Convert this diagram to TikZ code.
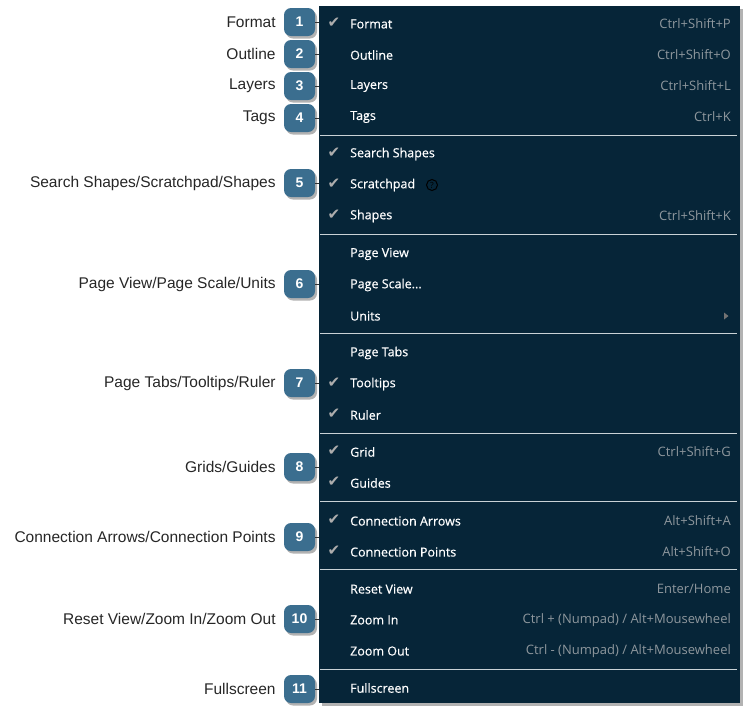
\documentclass[tikz,border=0pt]{standalone}
\usepackage{fontspec}
\setmainfont{Liberation Sans}
\newfontfamily\menufont{Open Sans}
\newfontfamily\menuboldfont[FakeBold=0.5]{Open Sans}
\newfontfamily\symfont{DejaVu Sans}
\usetikzlibrary{positioning,calc}
\definecolor{menubg}{HTML}{062538}
\definecolor{badgeblue}{HTML}{3B6E8F}
\definecolor{sepgray}{HTML}{C9D2D6}
\definecolor{keygray}{HTML}{8E979D}

\begin{document}
\begin{tikzpicture}[
    x=1pt, y=-1pt,
    badge/.style={fill=badgeblue, rounded corners=7pt, minimum width=31pt, minimum height=28pt,
      inner sep=0pt, text=white, font=\bfseries\fontsize{14}{14}\selectfont},
    badgeshadow/.style={fill=black!30, rounded corners=7pt, minimum width=31pt, minimum height=28pt},
    callout/.style={anchor=east, inner sep=0pt, font=\fontsize{15.5}{16}\selectfont, text=black!85},
    item/.style={anchor=west, inner sep=0pt, text=white, font=\menuboldfont\fontsize{12.5}{13}\selectfont},
    keys/.style={anchor=east, inner sep=0pt, text=keygray, font=\menufont\fontsize{13}{13}\selectfont},
    tick/.style={inner sep=0pt, text=black!32, font=\symfont\fontsize{15}{15}\selectfont},
    sep/.style={draw=sepgray, line width=1pt},
    leader/.style={draw=black!80, line width=0.6pt}
  ]
    \useasboundingbox (0,0) rectangle (751,716);
    % menu panel
    \fill[black!30] (322,9) rectangle (743,706);
    \node[fill=menubg, minimum width=421pt, minimum height=697pt, inner sep=0pt] (menu) at (529.5,354.5) {};

    % menu items
    \node[item] (format) at (350,24) {Format};
    \node[keys] at (731,24) {Ctrl+Shift+P};
    \node[item] (outline) at (350,55) {Outline};
    \node[keys] at (731,55) {Ctrl+Shift+O};
    \node[item] (layers) at (350,86) {Layers};
    \node[keys] at (731,86) {Ctrl+Shift+L};
    \node[item] (tags) at (350,117) {Tags};
    \node[keys] at (731,117) {Ctrl+K};
    \node[item] (search) at (350,154) {Search Shapes};
    \node[item] (scratch) at (350,185) {Scratchpad};
    \node[item] (shapes) at (350,216) {Shapes};
    \node[keys] at (731,216) {Ctrl+Shift+K};
    \node[item] (pageview) at (350,254) {Page View};
    \node[item] (pagescale) at (350,285) {Page Scale...};
    \node[item] (units) at (350,316) {Units};
    \node[item] (pagetabs) at (350,353) {Page Tabs};
    \node[item] (tooltips) at (350,384) {Tooltips};
    \node[item] (ruler) at (350,415) {Ruler};
    \node[item] (grid) at (350,452) {Grid};
    \node[keys] at (731,452) {Ctrl+Shift+G};
    \node[item] (guides) at (350,483) {Guides};
    \node[item] (connarrows) at (350,521) {Connection Arrows};
    \node[keys] at (731,521) {Alt+Shift+A};
    \node[item] (connpoints) at (350,552) {Connection Points};
    \node[keys] at (731,552) {Alt+Shift+O};
    \node[item] (resetview) at (350,589) {Reset View};
    \node[keys] at (731,589) {Enter/Home};
    \node[item] (zoomin) at (350,620) {Zoom In};
    \node[keys] at (731,620) {Ctrl + (Numpad) / Alt+Mousewheel};
    \node[item] (zoomout) at (350,651) {Zoom Out};
    \node[keys] at (731,651) {Ctrl - (Numpad) / Alt+Mousewheel};
    \node[item] (fullscreen) at (350,688) {Fullscreen};

    % check marks
    \foreach \y in {24,154,185,216,384,415,452,483,521,552}
      \node[tick] at (334,\y-1) {✔};

    % help icon and submenu arrow
    \draw[black, line width=1pt] (432,185) circle (5.5pt);
    \node[inner sep=0pt, text=black, font=\menufont\fontsize{8.5}{8}\selectfont] at (432,185) {?};
    \fill[black!55] (724,312.5) -- (728.5,316) -- (724,319.5) -- cycle;

    % separators
    \foreach \y in {135,234,333,433,501,569,669}
      \draw[sep] (320,\y) -- (737,\y);

    % badges
    \foreach \n/\y in {1/22,2/54,3/86,4/118,5/183,6/284,7/383,8/467,9/537,10/619,11/689}
      \node[badgeshadow] at (301.5,\y+2.5) {};
    \node[badge] (b1) at (299.5,22) {1};
    \node[badge] (b2) at (299.5,54) {2};
    \node[badge] (b3) at (299.5,86) {3};
    \node[badge] (b4) at (299.5,118) {4};
    \node[badge] (b5) at (299.5,183) {5};
    \node[badge] (b6) at (299.5,284) {6};
    \node[badge] (b7) at (299.5,383) {7};
    \node[badge] (b8) at (299.5,467) {8};
    \node[badge] (b9) at (299.5,537) {9};
    \node[badge] (b10) at (299.5,619) {10};
    \node[badge] (b11) at (299.5,689) {11};

    % leaders from badges to the menu
    \foreach \b in {b1,b2,b3,b4,b5,b6,b7,b8,b9,b10,b11}
      \draw[leader] (\b.east) -- (\b.east -| menu.west);

    % callout texts
    \node[callout, left=8pt of b1] (l1) {Format};
    \node[callout, left=8pt of b2] (l2) {Outline};
    \node[callout, left=8pt of b3] (l3) {Layers};
    \node[callout, left=8pt of b4] (l4) {Tags};
    \node[callout, left=8pt of b5] (l5) {Search Shapes/Scratchpad/Shapes};
    \node[callout, left=8pt of b6] (l6) {Page View/Page Scale/Units};
    \node[callout, left=8pt of b7] (l7) {Page Tabs/Tooltips/Ruler};
    \node[callout, left=8pt of b8] (l8) {Grids/Guides};
    \node[callout, left=8pt of b9] (l9) {Connection Arrows/Connection Points};
    \node[callout, left=8pt of b10] (l10) {Reset View/Zoom In/Zoom Out};
    \node[callout, left=8pt of b11] (l11) {Fullscreen};
  \end{tikzpicture}
\end{document}
